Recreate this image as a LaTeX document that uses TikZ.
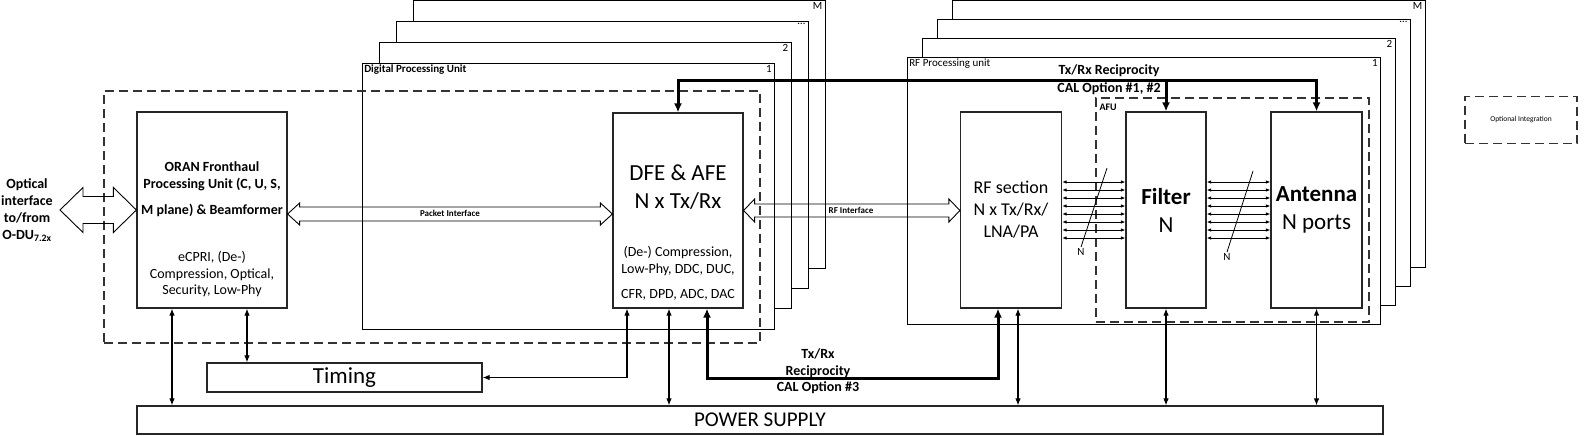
\documentclass[tikz,border=0pt]{standalone}
\usepackage{fontspec}
\setmainfont{Carlito}
\usetikzlibrary{arrows.meta, positioning}

% hollow block arrow between two points at the same height
% #1 left tip, #2 right tip, #3 head length, #4 half head, #5 half shaft
\newcommand{\fatarrow}[5]{%
  \draw[line width=0.9pt] (#1) -- ([xshift=#3,yshift=#4]#1) -- ([xshift=#3,yshift=#5]#1)
    -- ([xshift=-#3,yshift=#5]#2) -- ([xshift=-#3,yshift=#4]#2) -- (#2)
    -- ([xshift=-#3,yshift=-#4]#2) -- ([xshift=-#3,yshift=-#5]#2)
    -- ([xshift=#3,yshift=-#5]#1) -- ([xshift=#3,yshift=-#4]#1) -- cycle;}

\begin{document}
\begin{tikzpicture}[x=1pt, y=-1pt,
  blk/.style={draw=black!85, line width=1.2pt, fill=white, inner sep=0pt, align=center},
  stk/.style={draw, line width=0.9pt, fill=white},
  dsh/.style={draw=black!80, line width=1.4pt, dash pattern=on 9pt off 5pt, inner sep=0pt},
  arr/.style={line width=1.1pt, {Latex[length=7pt,width=5.5pt]}-{Latex[length=7pt,width=5.5pt]}},
  thk/.style={line width=3pt, {Latex[length=9pt,width=8pt]}-{Latex[length=9pt,width=8pt]}},
  bus/.style={line width=0.9pt, {Latex[length=4.5pt,width=3.5pt]}-{Latex[length=4.5pt,width=3.5pt]}},
  tsm/.style={font=\fontsize{11}{13}\selectfont},
  tsmb/.style={font=\fontsize{11}{13}\selectfont\bfseries},
  tif/.style={font=\fontsize{9}{11}\selectfont\bfseries},
  tmd/.style={font=\fontsize{14}{16.5}\selectfont, align=center},
  tmdb/.style={font=\fontsize{14}{17}\selectfont\bfseries, align=center},
  tbig/.style={font=\fontsize{23}{28}\selectfont, align=center}]

  \useasboundingbox (0,0) rectangle (1584,436);

  % --- Digital Processing Unit stack ---
  \foreach \k/\n in {3/M,2/\ldots,1/2}{
    \draw[stk] ({362+17*\k},{63-21*\k}) rectangle ({774+17*\k},{329-20.3*\k});
    \node[tsm, anchor=north east, inner sep=2.5pt] (dpuno\k) at ({774+17*\k},{63-21*\k}) {\n};
  }
  \node[stk, minimum width=412pt, minimum height=266pt] (dpu) at (568,196) {};
  \node[tsmb, anchor=north west, inner sep=2.5pt] (dpulbl) at (dpu.north west) {Digital Processing Unit};
  \node[tsm, anchor=north east, inner sep=2.5pt] (dpuno0) at (dpu.north east) {1};

  % --- RF Processing unit stack ---
  \foreach \k/\n in {3/M,2/\ldots,1/2}{
    \draw[stk] ({907+15.3*\k},{57-19*\k}) rectangle ({1380+15*\k},{324-18.7*\k});
    \node[tsm, anchor=north east, inner sep=2.5pt] (rfno\k) at ({1380+15*\k},{57-19*\k}) {\n};
  }
  \node[stk, minimum width=473pt, minimum height=267pt] (rfpu) at (1143.5,190.5) {};
  \node[tsm, anchor=north west, inner sep=2.5pt] (rfpulbl) at (rfpu.north west) {RF Processing unit};
  \node[tsm, anchor=north east, inner sep=2.5pt] (rfno0) at (rfpu.north east) {1};

  % --- dashed groups ---
  \node[dsh, minimum width=656pt, minimum height=252pt] (ru) at (432,217) {};
  \node[dsh, minimum width=273pt, minimum height=224pt] (afu) at (1232.5,210) {};
  \node[font=\fontsize{10}{12}\selectfont\bfseries, anchor=north west, inner sep=4pt, yshift=-3pt] (afulbl) at (afu.north west) {AFU};
  \node[dsh, font=\fontsize{7.5}{9}\selectfont, minimum width=112pt, minimum height=47pt] (opt) at (1521,120) {Optional Integration};

  % --- blocks ---
  \node[blk, minimum width=150pt, minimum height=196pt] (oran) at (212,210) {};
  \node[tmdb] (oranhd) at (212,189.5) {ORAN Fronthaul\\Processing Unit (C, U, S,\\[9pt]M plane) \& Beamformer};
  \node[tmd] (oranft) at (212,274.5) {eCPRI, (De-)\\Compression, Optical,\\Security, Low-Phy};

  \node[blk, minimum width=130pt, minimum height=195pt] (dfe) at (678,210.5) {};
  \node[tbig] (dfehd) at (678,187.5) {DFE \& AFE\\N x Tx/Rx};
  \node[tmd] (dfeft) at (678,273.5) {(De-) Compression,\\Low-Phy, DDC, DUC,\\[9pt]CFR, DPD, ADC, DAC};

  \node[blk, font=\fontsize{18}{22}\selectfont, minimum width=101pt, minimum height=196pt] (rfs) at (1011,210) {RF section\\N x Tx/Rx/\\LNA/PA};
  \node[blk, tbig, minimum width=80pt, minimum height=196pt] (filt) at (1166,210) {\textbf{Filter}\\N};
  \node[blk, tbig, minimum width=91pt, minimum height=196pt] (ant) at (1316.5,210) {\textbf{Antenna}\\N ports};

  \node[blk, tbig, minimum width=275pt, minimum height=29pt] (timing) at (344.5,377.5) {Timing};
  \node[blk, font=\fontsize{21}{25}\selectfont, minimum width=1246pt, minimum height=28pt] (pwr) at (760,420) {POWER SUPPLY};

  \node[tmdb] (optlbl) at (27,210) {Optical\\interface\\to/from\\O-DU\textsubscript{7.2x}};

  % --- interfaces ---
  \coordinate (optL) at (60,210);
  \fatarrow{optL}{oran.west}{23}{22.5}{13.5}
  \coordinate (pktL) at ([yshift=-4pt]oran.east);
  \coordinate (pktR) at (dfe.west |- pktL);
  \fatarrow{pktL}{pktR}{12}{11}{7}
  \node[tif] (pktlbl) at (450,213) {Packet Interface};
  \coordinate (rfR) at (rfs.west |- dfe.east);
  \fatarrow{dfe.east}{rfR}{11}{11.5}{6.5}
  \node[tif] (rflbl) at (851,210) {RF Interface};

  % --- N x Tx/Rx buses ---
  \foreach \k in {0,...,7}{
    \draw[bus] ([yshift={28-8*\k}]rfs.east) -- ([yshift={28-8*\k}]filt.west);
    \draw[bus] ([yshift={28-8*\k}]filt.east) -- ([yshift={28-8*\k}]ant.west);
  }
  \coordinate (busa) at (1094,210);
  \draw[line width=0.8pt] ([xshift=13pt,yshift=42pt]busa) -- ([xshift=-13pt,yshift=-37pt]busa)
    node[below, inner sep=1.5pt, tsm] (na) {N};
  \coordinate (busb) at (1239,210);
  \draw[line width=0.8pt] ([xshift=14pt,yshift=39pt]busb) -- ([xshift=-12pt,yshift=-42pt]busb)
    node[below, inner sep=1.5pt, tsm] (nb) {N};

  % --- supply and timing ---
  \coordinate (oa) at ([xshift=-40pt]oran.south);
  \coordinate (ob) at ([xshift=35pt]oran.south);
  \coordinate (da) at ([xshift=-51pt]dfe.south);
  \coordinate (db) at ([xshift=-9pt]dfe.south);
  \coordinate (dc) at ([xshift=29pt]dfe.south);
  \coordinate (ra) at ([xshift=-13pt]rfs.south);
  \coordinate (rb) at ([xshift=7pt]rfs.south);
  \draw[arr] (oa) -- (oa |- pwr.north);
  \draw[arr] (ob) -- (ob |- timing.north);
  \draw[arr] (da) |- (timing.east);
  \draw[arr] (db) -- (db |- pwr.north);
  \draw[arr] (rb) -- (rb |- pwr.north);
  \draw[arr] (filt.south) -- (filt.south |- pwr.north);
  \draw[arr] (ant.south) -- (ant.south |- pwr.north);

  % --- reciprocity calibration ---
  \coordinate (cal3) at (818,378);
  \draw[thk] (dc) |- (cal3) -| (ra);
  \node[tmdb, font=\fontsize{14}{16.5}\selectfont\bfseries] (cal3lbl) at (818,371.5) {Tx/Rx\\Reciprocity\\CAL Option \#3};

  \coordinate (cal12) at (1109,80);
  \draw[thk] (dfe.north) |- (cal12) -| (ant.north);
  \draw[thk, -{Latex[length=9pt,width=8pt]}] (filt.north |- cal12) -- (filt.north);
  \node[tmdb, font=\fontsize{14}{18}\selectfont\bfseries] (cal12lbl) at (cal12) {Tx/Rx Reciprocity\\CAL Option \#1, \#2};

\end{tikzpicture}
\end{document}
